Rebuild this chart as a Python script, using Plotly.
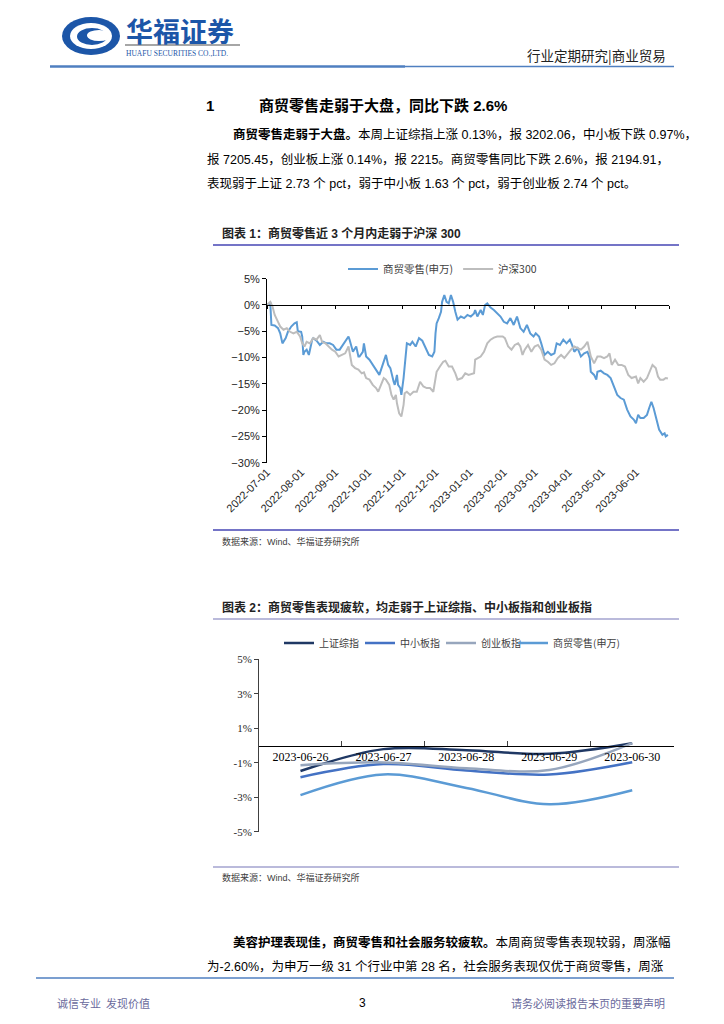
import plotly.graph_objects as go

W, H = 724, 1024


def px(x):
    return x / W


def py(y):
    return 1 - y / H


# ---------------- Chart 1 data: cumulative change (%) ----------------
retail_dates = ["2022-07-01", "2022-07-04", "2022-07-05", "2022-07-08", "2022-07-11", "2022-07-13", "2022-07-15",
                "2022-07-18", "2022-07-20", "2022-07-23", "2022-07-26", "2022-07-28", "2022-07-29", "2022-08-01",
                "2022-08-02", "2022-08-03", "2022-08-04", "2022-08-06", "2022-08-08", "2022-08-09", "2022-08-11",
                "2022-08-12", "2022-08-15", "2022-08-18", "2022-08-21", "2022-08-24", "2022-08-27", "2022-08-30",
                "2022-09-02", "2022-09-05", "2022-09-08", "2022-09-13", "2022-09-14", "2022-09-17", "2022-09-20",
                "2022-09-22", "2022-09-23", "2022-09-26", "2022-09-27", "2022-09-29", "2022-10-02", "2022-10-07",
                "2022-10-11", "2022-10-14", "2022-10-17", "2022-10-19", "2022-10-21", "2022-10-24", "2022-10-25",
                "2022-10-27", "2022-10-28", "2022-10-30", "2022-10-31", "2022-11-02", "2022-11-03", "2022-11-05",
                "2022-11-08", "2022-11-10", "2022-11-13", "2022-11-16", "2022-11-19", "2022-11-22", "2022-11-25",
                "2022-11-28", "2022-11-30", "2022-12-01", "2022-12-02", "2022-12-04", "2022-12-06", "2022-12-07",
                "2022-12-09", "2022-12-11", "2022-12-13", "2022-12-15", "2022-12-17", "2022-12-19", "2022-12-21",
                "2022-12-24", "2022-12-27", "2022-12-30", "2023-01-02", "2023-01-05", "2023-01-06", "2023-01-08",
                "2023-01-11", "2023-01-13", "2023-01-15", "2023-01-17", "2023-01-20", "2023-01-23", "2023-01-26",
                "2023-01-29", "2023-02-01", "2023-02-04", "2023-02-07", "2023-02-10", "2023-02-13", "2023-02-16",
                "2023-02-19", "2023-02-22", "2023-02-25", "2023-02-28", "2023-03-02", "2023-03-05", "2023-03-07",
                "2023-03-10", "2023-03-13", "2023-03-16", "2023-03-19", "2023-03-21", "2023-03-24", "2023-03-27",
                "2023-03-30", "2023-04-02", "2023-04-04", "2023-04-06", "2023-04-09", "2023-04-12", "2023-04-15",
                "2023-04-18", "2023-04-20", "2023-04-21", "2023-04-24", "2023-04-26", "2023-04-27", "2023-04-30",
                "2023-05-03", "2023-05-06", "2023-05-09", "2023-05-12", "2023-05-15", "2023-05-18", "2023-05-21",
                "2023-05-24", "2023-05-27", "2023-05-30", "2023-06-01", "2023-06-03", "2023-06-05", "2023-06-08",
                "2023-06-11", "2023-06-13", "2023-06-15", "2023-06-17", "2023-06-20", "2023-06-22", "2023-06-25",
                "2023-06-27", "2023-06-28", "2023-06-30"]
retail_vals = [0.0, 0.3, -3.8, -3.9, -4.4, -5.4, -7.3,
               -6.3, -5.1, -4.1, -3.5, -3.3, -5.0, -5.1,
               -6.0, -9.5, -8.9, -8.5, -9.5, -8.5, -6.6,
               -6.3, -6.8, -7.6, -7.0, -7.3, -7.3, -7.6,
               -8.5, -8.5, -7.6, -6.0, -6.6, -8.9, -7.9,
               -9.8, -9.8, -8.9, -7.3, -9.8, -10.4, -12.0,
               -13.3, -11.4, -9.5, -11.4, -12.0, -14.6, -15.2,
               -13.3, -15.2, -15.8, -17.1, -13.9, -11.1, -7.3,
               -7.6, -7.0, -7.9, -6.3, -6.8, -8.2, -9.5,
               -9.8, -8.9, -5.4, -3.5, -2.5, -1.3, 0.6,
               1.9, 0.6, 0.3, 1.9, 0.6, -1.3, -2.8,
               -2.2, -2.5, -1.9, -2.2, -1.6, -0.95, -2.2,
               -0.95, -1.9, 0.0, 0.3, -0.5, -0.95, -1.6,
               -2.2, -3.2, -3.5, -2.5, -3.8, -2.2, -4.4,
               -5.1, -3.8, -5.4, -6.0, -5.4, -6.0, -7.3,
               -9.5, -8.9, -9.5, -9.2, -7.3, -7.6, -6.6,
               -7.3, -6.6, -7.6, -8.9, -8.2, -9.8, -9.2,
               -8.9, -10.1, -12.7, -13.3, -14.2, -12.7, -12.5,
               -13.0, -13.3, -13.9, -15.5, -17.1, -17.7, -18.0,
               -19.9, -21.2, -21.8, -22.5, -20.9, -21.5, -21.5,
               -20.9, -19.6, -18.4, -19.6, -22.2, -23.7, -24.7,
               -24.4, -25.0, -24.7]

hs300_dates = ["2022-07-01", "2022-07-04", "2022-07-06", "2022-07-08", "2022-07-11", "2022-07-13", "2022-07-16",
               "2022-07-19", "2022-07-22", "2022-07-25", "2022-07-28", "2022-07-31", "2022-08-02", "2022-08-04",
               "2022-08-06", "2022-08-09", "2022-08-12", "2022-08-15", "2022-08-18", "2022-08-20", "2022-08-23",
               "2022-08-26", "2022-08-29", "2022-09-01", "2022-09-04", "2022-09-07", "2022-09-10", "2022-09-13",
               "2022-09-14", "2022-09-16", "2022-09-19", "2022-09-22", "2022-09-25", "2022-09-27", "2022-09-29",
               "2022-10-02", "2022-10-05", "2022-10-08", "2022-10-10", "2022-10-12", "2022-10-15", "2022-10-17",
               "2022-10-20", "2022-10-22", "2022-10-24", "2022-10-26", "2022-10-27", "2022-10-29", "2022-10-31",
               "2022-11-02", "2022-11-03", "2022-11-05", "2022-11-08", "2022-11-11", "2022-11-14", "2022-11-17",
               "2022-11-20", "2022-11-23", "2022-11-26", "2022-11-29", "2022-12-01", "2022-12-02", "2022-12-05",
               "2022-12-08", "2022-12-10", "2022-12-13", "2022-12-16", "2022-12-19", "2022-12-21", "2022-12-25",
               "2022-12-28", "2022-12-31", "2023-01-05", "2023-01-06", "2023-01-11", "2023-01-14", "2023-01-17",
               "2023-01-20", "2023-01-23", "2023-01-26", "2023-01-31", "2023-02-02", "2023-02-05", "2023-02-08",
               "2023-02-11", "2023-02-14", "2023-02-16", "2023-02-18", "2023-02-20", "2023-02-23", "2023-02-26",
               "2023-03-01", "2023-03-04", "2023-03-07", "2023-03-10", "2023-03-13", "2023-03-16", "2023-03-19",
               "2023-03-22", "2023-03-25", "2023-03-28", "2023-03-31", "2023-04-03", "2023-04-06", "2023-04-09",
               "2023-04-12", "2023-04-15", "2023-04-18", "2023-04-21", "2023-04-24", "2023-04-27", "2023-04-30",
               "2023-05-03", "2023-05-06", "2023-05-08", "2023-05-10", "2023-05-13", "2023-05-16", "2023-05-19",
               "2023-05-22", "2023-05-25", "2023-05-28", "2023-06-01", "2023-06-03", "2023-06-05", "2023-06-08",
               "2023-06-11", "2023-06-14", "2023-06-16", "2023-06-19", "2023-06-21", "2023-06-23", "2023-06-26",
               "2023-06-28", "2023-06-30"]
hs300_vals = [0.0, 0.6, -0.3, -1.9, -3.2, -4.1, -4.7,
              -4.4, -5.1, -5.4, -5.1, -6.0, -7.3, -7.9,
              -7.0, -7.3, -6.3, -6.6, -5.7, -7.0, -7.3,
              -7.9, -8.5, -8.9, -9.8, -9.5, -9.2, -7.9,
              -8.9, -11.4, -12.0, -12.3, -13.0, -12.8, -13.9,
              -14.2, -15.2, -15.8, -16.5, -15.5, -13.9, -14.2,
              -15.2, -17.1, -18.0, -17.1, -18.7, -20.6, -21.2,
              -19.0, -16.8, -16.5, -17.1, -16.5, -16.5, -14.6,
              -15.5, -15.8, -15.8, -16.5, -14.2, -12.7, -11.7,
              -10.8, -10.6, -11.7, -11.7, -13.0, -14.2, -13.9,
              -13.0, -13.3, -13.0, -10.4, -9.8, -8.9, -7.3,
              -6.6, -6.2, -6.0, -6.0, -6.3, -7.9, -8.5,
              -7.6, -7.3, -7.9, -9.5, -8.5, -7.6, -8.9,
              -7.9, -7.6, -8.5, -10.4, -10.8, -11.4, -11.1,
              -10.1, -9.5, -10.1, -9.2, -8.5, -7.9, -8.2,
              -8.5, -7.9, -7.0, -9.8, -11.1, -9.8, -9.8,
              -10.1, -9.8, -9.2, -11.4, -10.4, -11.4, -11.4,
              -11.7, -13.3, -13.9, -13.6, -14.9, -13.9, -14.6,
              -13.9, -12.3, -11.4, -12.0, -13.6, -14.2, -14.2,
              -13.9, -14.0]

month_ticks = ["2022-07-01", "2022-08-01", "2022-09-01", "2022-10-01", "2022-11-01", "2022-12-01",
               "2023-01-01", "2023-02-01", "2023-03-01", "2023-04-01", "2023-05-01", "2023-06-01"]
axis_end = "2023-07-01"

# ---------------- Chart 2 data: weekly cumulative change (%) ----------------
days = ["2023-06-26", "2023-06-27", "2023-06-28", "2023-06-29", "2023-06-30"]
sh_comp = [-1.48, -0.21, -0.27, -0.48, 0.13]
sme_idx = [-1.84, -1.08, -1.45, -1.68, -0.97]
gem_idx = [-1.14, -0.98, -1.32, -1.42, 0.14]
retail_wk = [-2.88, -1.68, -2.46, -3.41, -2.60]

CJK = "Noto Sans CJK SC"
SANS = "Liberation Sans, Noto Sans CJK SC"
SERIF = "Liberation Serif, Noto Sans CJK SC"

fig = go.Figure()

# Chart 1 traces
fig.add_trace(go.Scatter(x=retail_dates, y=retail_vals, name="商贸零售(申万)", mode="lines",
                         line=dict(color="#5B9BD5", width=2), xaxis="x", yaxis="y", legend="legend"))
fig.add_trace(go.Scatter(x=hs300_dates, y=hs300_vals, name="沪深300", mode="lines",
                         line=dict(color="#BDBDBD", width=2), xaxis="x", yaxis="y", legend="legend"))
fig.add_trace(go.Scatter(x=[], y=[], xaxis="x3", yaxis="y", showlegend=False, hoverinfo="skip"))

# Chart 2 traces
c2 = [("上证综指", sh_comp, "#1F3864", "legend2"), ("中小板指", sme_idx, "#4472C4", "legend2"),
      ("创业板指", gem_idx, "#97A6BD", "legend2"), ("商贸零售(申万)", retail_wk, "#5B9BD5", "legend3")]
for name, vals, col, lg in c2:
    fig.add_trace(go.Scatter(x=days, y=vals, name=name, mode="lines",
                             line=dict(color=col, width=2.5, shape="spline"),
                             xaxis="x2", yaxis="y2", legend=lg))

# geometry
c1_left, c1_right, c1_top, c1_bot = 267, 669, 278.7, 462.7
c2_left, c2_right, c2_top, c2_bot = 259, 673.7, 659.3, 831.7
y1_range = [-30, 5]
zero1 = py(c1_bot) + (0 - y1_range[0]) / (y1_range[1] - y1_range[0]) * (py(c1_top) - py(c1_bot))
zero2 = (py(c2_bot) + py(c2_top)) / 2

legend_font2 = dict(family=CJK, size=10, color="#404040")

fig.update_layout(
    template="none",
    width=W, height=H, margin=dict(l=0, r=0, t=0, b=0, pad=0, autoexpand=False),
    paper_bgcolor="white", plot_bgcolor="rgba(0,0,0,0)",
    xaxis=dict(domain=[px(c1_left), px(c1_right)], anchor="y", type="date", automargin=False,
               range=[month_ticks[0], axis_end], tickmode="array", tickvals=month_ticks,
               ticktext=month_ticks, tickangle=-45, showline=False, ticks="", showgrid=False,
               zeroline=False, tickfont=dict(family=SANS, size=11, color="#262626")),
    xaxis3=dict(overlaying="x", anchor="free", position=zero1, type="date", automargin=False,
                range=[month_ticks[0], axis_end], tickmode="array", tickvals=month_ticks + [axis_end],
                showticklabels=False, ticks="outside", ticklen=3, tickcolor="black",
                showline=True, linecolor="black", linewidth=1, showgrid=False, zeroline=False),
    yaxis=dict(domain=[py(c1_bot), py(c1_top)], anchor="x", range=y1_range, dtick=5, automargin=False,
               ticksuffix="%", showline=True, linecolor="black", linewidth=1, ticks="outside",
               ticklen=4, tickcolor="black", showgrid=False, zeroline=False,
               tickfont=dict(family=SANS, size=11, color="#262626")),
    xaxis2=dict(domain=[px(c2_left), px(c2_right)], anchor="free", position=zero2, type="category",
                categoryorder="array", categoryarray=days, range=[-0.5, len(days) - 0.5], automargin=False,
                showline=True, linecolor="black", linewidth=1, ticks="inside", tickson="boundaries",
                ticklen=5, tickcolor="#404040", showgrid=False, zeroline=False,
                tickfont=dict(family=SERIF, size=12, color="black")),
    yaxis2=dict(domain=[py(c2_bot), py(c2_top)], anchor="x2", range=[-5, 5], automargin=False,
                tickmode="array", tickvals=[-5, -3, -1, 1, 3, 5],
                ticktext=["-5%", "-3%", "-1%", "1%", "3%", "5%"],
                showline=True, linecolor="#404040", linewidth=1, ticks="outside", ticklen=4,
                tickcolor="#404040", showgrid=False, zeroline=False,
                tickfont=dict(family=SERIF, size=11, color="#262626")),
    legend=dict(orientation="h", x=px(343), xanchor="left", y=py(269), yanchor="middle",
                bgcolor="rgba(0,0,0,0)", itemwidth=30, traceorder="normal",
                font=dict(family=CJK, size=10.5, color="#404040")),
    legend2=dict(orientation="h", x=px(279), xanchor="left", y=py(643), yanchor="middle",
                 bgcolor="rgba(0,0,0,0)", itemwidth=30, traceorder="normal",
                 entrywidth=36, entrywidthmode="pixels", font=legend_font2),
    legend3=dict(orientation="h", x=px(513), xanchor="left", y=py(643), yanchor="middle",
                 bgcolor="rgba(0,0,0,0)", itemwidth=30, font=legend_font2),
)

shapes = []
# logo
shapes.append(dict(type="circle", xref="paper", yref="paper", x0=px(62), x1=px(120), y0=py(55), y1=py(17),
                   fillcolor="#1C56A8", line=dict(width=0)))
shapes.append(dict(type="circle", xref="paper", yref="paper", x0=px(70), x1=px(112), y0=py(49), y1=py(23),
                   fillcolor="white", line=dict(width=0)))
shapes.append(dict(type="circle", xref="paper", yref="paper", x0=px(77), x1=px(107), y0=py(45), y1=py(28),
                   fillcolor="#1C56A8", line=dict(width=0)))
shapes.append(dict(type="circle", xref="paper", yref="paper", x0=px(87), x1=px(111), y0=py(41), y1=py(30),
                   fillcolor="white", line=dict(width=0)))
shapes.append(dict(type="line", xref="paper", yref="paper", x0=px(125), x1=px(240), y0=py(45), y1=py(45),
                   line=dict(color="#A6A6A6", width=2)))
# header lines
shapes.append(dict(type="line", xref="paper", yref="paper", x0=px(50), x1=px(405), y0=py(66.5), y1=py(66.5),
                   line=dict(color="#4F7FC0", width=2.5)))
shapes.append(dict(type="line", xref="paper", yref="paper", x0=px(405), x1=px(674), y0=py(66.5), y1=py(66.5),
                   line=dict(color="#4F7FC0", width=1.5)))
# caption rules
for yy, col in [(245, "#4646B4"), (530, "#4646B4"), (619, "#A3A3CF"), (867, "#A3A3CF")]:
    shapes.append(dict(type="line", xref="paper", yref="paper", x0=px(213), x1=px(679), y0=py(yy), y1=py(yy),
                       line=dict(color=col, width=1.5)))
# footer rule
shapes.append(dict(type="line", xref="paper", yref="paper", x0=px(36), x1=px(674), y0=py(978), y1=py(978),
                   line=dict(color="#4F7FC0", width=1.5)))
fig.update_layout(shapes=shapes)


def txt(x, y, s, size, color="black", family=SANS, anchor="left"):
    return dict(x=px(x), y=py(y), xref="paper", yref="paper", text=s, showarrow=False,
                xanchor=anchor, yanchor="middle", font=dict(family=family, size=size, color=color))


ann = [
    txt(124, 30, "<b>华福证券</b>", 27, "#1C56A8", CJK),
    txt(124, 53, "HUAFU SECURITIES CO.,LTD.", 7.5, "#1C56A8", SERIF),
    txt(668, 55, "行业定期研究|商业贸易", 13.5, "#222222", CJK, "right"),
    txt(204, 105, "<b>1</b>", 15, "black", SANS),
    txt(257, 105, "<b>商贸零售走弱于大盘，同比下跌 2.6%</b>", 15, "black", SANS),
    txt(231, 134, "<b>商贸零售走弱于大盘。</b>本周上证综指上涨 0.13%，报 3202.06，中小板下跌 0.97%，", 12.5),
    txt(205, 159, "报 7205.45，创业板上涨 0.14%，报 2215。商贸零售同比下跌 2.6%，报 2194.91，", 12.5),
    txt(205, 183, "表现弱于上证 2.73 个 pct，弱于中小板 1.63 个 pct，弱于创业板 2.74 个 pct。", 12.5),
    txt(220, 233, "<b>图表 1：商贸零售近 3 个月内走弱于沪深 300</b>", 12, "#222222"),
    txt(220, 541, "数据来源：Wind、华福证券研究所", 9, "#404040"),
    txt(220, 607, "<b>图表 2：商贸零售表现疲软，均走弱于上证综指、中小板指和创业板指</b>", 12, "#222222"),
    txt(220, 877, "数据来源：Wind、华福证券研究所", 9, "#404040"),
    txt(231, 942, "<b>美容护理表现佳，商贸零售和社会服务较疲软。</b>本周商贸零售表现较弱，周涨幅", 12.5),
    txt(205, 966, "为-2.60%，为申万一级 31 个行业中第 28 名，社会服务表现仅优于商贸零售，周涨", 12.5),
    txt(55, 1003, "诚信专业  发现价值", 11, "#6A6A9C", CJK),
    txt(362, 1003, "3", 12, "black", SANS, "center"),
    txt(667, 1003, "请务必阅读报告末页的重要声明", 11, "#6A6A9C", CJK, "right"),
]
fig.update_layout(annotations=ann)

fig.write_html("out.html", config={"displayModeBar": False},
               post_script="document.body.style.margin='0';document.body.style.padding='0';")
